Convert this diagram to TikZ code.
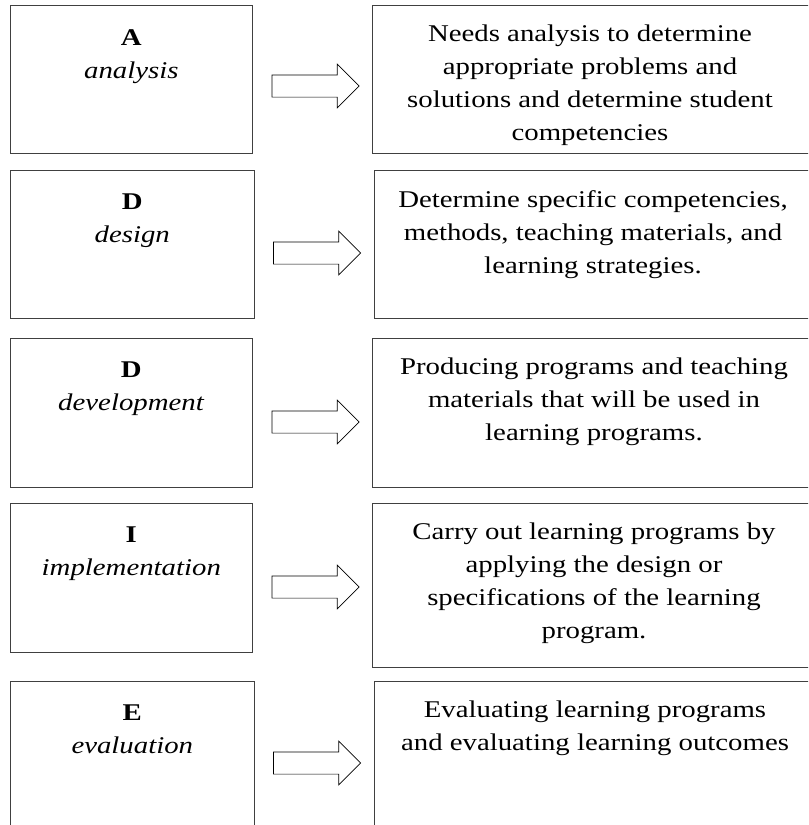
\documentclass[tikz,border=0pt]{standalone}
\usepackage{fontspec}
\setmainfont{Liberation Serif}[FakeStretch=1.2]
\usetikzlibrary{shapes.arrows}

\tikzstyle{phase} = [rectangle, draw=black!75, line width=0.8pt, anchor=north west, inner sep=0pt]
\tikzstyle{phasetext} = [anchor=north, align=center, inner sep=0pt, font=\fontsize{18}{24.75}\selectfont]
\tikzstyle{blockarrow} = [single arrow, draw=black, line width=0.5pt, inner xsep=0pt, inner ysep=8.06pt, minimum height=65.25pt, minimum width=32.25pt, single arrow head extend=8.06pt, single arrow tip angle=90]

\begin{document}
\begin{tikzpicture}[x=0.75pt,y=-0.75pt]
    \useasboundingbox (0,0) rectangle (808,825);
    \fill [white] (0,0) rectangle (808,825);
    \clip (0,0) rectangle (808,825);

    % left column: the five phases
    \node [phase, minimum width=181.9pt, minimum height=111pt] at (9.5,5) (anaL) {};
    \node [phase, minimum width=183.4pt, minimum height=111pt] at (9.5,170) (desL) {};
    \node [phase, minimum width=181.9pt, minimum height=111.7pt] at (9.5,338) (devL) {};
    \node [phase, minimum width=181.9pt, minimum height=111.7pt] at (9.5,503) (impL) {};
    \node [phase, minimum width=183.4pt, minimum height=150pt] at (9.5,681) (evaL) {};

    % right column: what happens in each phase
    \node [phase, minimum width=332.3pt, minimum height=111pt] at (372,5) (anaR) {};
    \node [phase, minimum width=330.8pt, minimum height=111pt] at (374,170) (desR) {};
    \node [phase, minimum width=332.3pt, minimum height=111.7pt] at (372,338) (devR) {};
    \node [phase, minimum width=332.3pt, minimum height=123pt] at (372,503) (impR) {};
    \node [phase, minimum width=330.8pt, minimum height=150pt] at (374,681) (evaR) {};

    % texts
    \node [phasetext] at ([yshift=-18pt]anaL.north) (anaLt) {\textbf{A}\\\textit{analysis}};
    \node [phasetext] at ([yshift=-18pt]desL.north) (desLt) {\textbf{D}\\\textit{design}};
    \node [phasetext] at ([yshift=-18pt]devL.north) (devLt) {\textbf{D}\\\textit{development}};
    \node [phasetext] at ([yshift=-18pt]impL.north) (impLt) {\textbf{I}\\\textit{implementation}};
    \node [phasetext] at ([yshift=-18pt]evaL.north) (evaLt) {\textbf{E}\\\textit{evaluation}};

    \node [phasetext] at (590,25) (anaRt) {Needs analysis to determine\\appropriate problems and\\solutions and determine student\\competencies};
    \node [phasetext] at (593,190) (desRt) {Determine specific competencies,\\methods, teaching materials, and\\learning strategies.};
    \node [phasetext] at (594,358) (devRt) {Producing programs and teaching\\materials that will be used in\\learning programs.};
    \node [phasetext] at (594,523) (impRt) {Carry out learning programs by\\applying the design or\\specifications of the learning\\program.};
    \node [phasetext] at (595,701) (evaRt) {Evaluating learning programs\\and evaluating learning outcomes};

    % arrows between the columns
    \node [blockarrow] at (310,86) (arr1) {};
    \node [blockarrow] at (311.5,253) (arr2) {};
    \node [blockarrow] at (310,422) (arr3) {};
    \node [blockarrow] at (310,587) (arr4) {};
    \node [blockarrow] at (311.5,763) (arr5) {};
\end{tikzpicture}
\end{document}
